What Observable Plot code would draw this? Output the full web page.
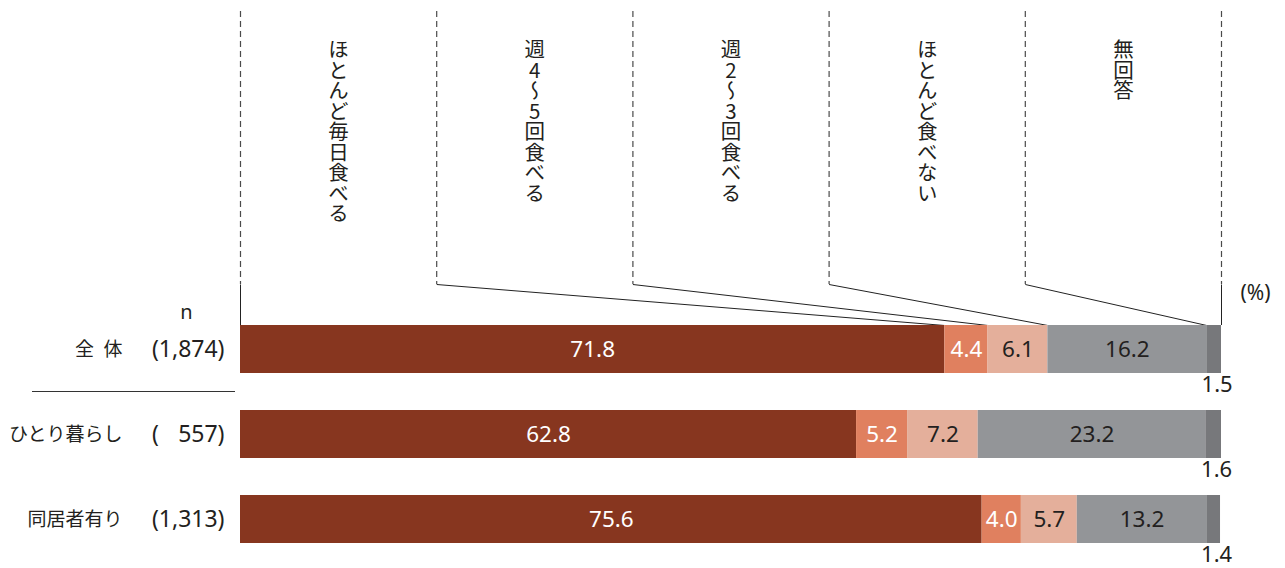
<!DOCTYPE html>
<html><head><meta charset="utf-8">
<script src="https://cdn.jsdelivr.net/npm/d3@7"></script>
<script src="https://cdn.jsdelivr.net/npm/@observablehq/plot@0.6"></script>
<style>
body{margin:0;background:#fff;}
#chart svg{display:block;}
</style></head><body><div id="chart"></div>
<script>
// ---- data ----
const groups = ["全体", "ひとり暮らし", "同居者有り"];
const groupNames = ["全\u2002体", "ひとり暮らし", "同居者有り"];
const groupN = ["(1,874)", "(\u2007\u2008557)", "(1,313)"];
const categories = ["ほとんど毎日食べる", "週4〜5回食べる", "週2〜3回食べる", "ほとんど食べない", "無回答"];
const valuesAll = [71.8, 4.4, 6.1, 16.2, 1.5];
const valuesAlone = [62.8, 5.2, 7.2, 23.2, 1.6];
const valuesWith = [75.6, 4.0, 5.7, 13.2, 1.4];

// ---- styles ----
const colors = ["#87361f", "#e0805f", "#e4af9b", "#939598", "#77787b"];
const whiteText = [true, true, false, false, false];
const W = 1285, ML = 240, MR = 64;
const latin = "'Noto Sans', 'Noto Sans CJK JP', sans-serif";
const cjk = "'Noto Sans CJK JP', 'Noto Sans', sans-serif";

const seriesValues = [valuesAll, valuesAlone, valuesWith];
const rows = [];
groups.forEach((g, gi) => {
  let c = 0;
  categories.forEach((cat, ci) => {
    const v = seriesValues[gi][ci];
    rows.push({group: g, category: cat, value: v, x1: c, x2: c + v, mid: c + v / 2, ci});
    c += v;
  });
});
const nCat = categories.length;
const bounds = d3.range(nCat + 1).map(i => i * 100 / nCat);
const cumFirst = [0];
valuesAll.forEach((v, i) => cumFirst.push(i === nCat - 1 ? 100 : +(cumFirst[i] + v).toFixed(1)));

// ---- header ----
const headerH = 325;
const header = Plot.plot({
  width: W, height: headerH, marginLeft: ML, marginRight: MR, marginTop: 0, marginBottom: 0,
  x: {domain: [0, 100], axis: null},
  y: {type: "identity", axis: null},
  style: {fontFamily: latin, background: "white", color: "#231f20"},
  marks: [
    Plot.ruleX(bounds, {x: d => d, y1: 11, y2: 284, stroke: "#4a4a4a", strokeWidth: 1.2, strokeDasharray: "6,4"}),
    Plot.link(bounds, {x1: d => d, y1: 284, x2: (d, i) => cumFirst[i], y2: headerH, stroke: "#222", strokeWidth: 1}),
    Plot.text(categories, {x: (d, i) => (i + 0.5) * 100 / nCat, y: 24, text: d => d, textAnchor: "start", lineAnchor: "top", fontSize: 20.5, fontFamily: cjk, fill: "#231f20"}),
    Plot.text(["n"], {frameAnchor: "bottom-left", dx: -54, dy: -13, text: d => d, textAnchor: "middle", lineAnchor: "middle", fontSize: 20, fill: "#231f20"}),
    Plot.text(["(%)"], {frameAnchor: "bottom-right", dx: 34, dy: -32, text: d => d, textAnchor: "middle", lineAnchor: "middle", fontSize: 21, fill: "#231f20"})
  ]
});
d3.select(header).selectAll("text")
  .filter(function() { return categories.includes(this.textContent); })
  .style("writing-mode", "vertical-rl")
  .style("text-orientation", "upright")
  .attr("dy", null);

// ---- bars ----
const bars = Plot.plot({
  width: W, height: 568 - headerH, marginLeft: ML, marginRight: MR, marginTop: 0, marginBottom: 24,
  x: {domain: [0, 100], axis: null},
  y: {domain: groups, axis: null, paddingInner: 0.44, paddingOuter: 0, align: 0},
  color: {domain: categories, range: colors},
  style: {fontFamily: latin, background: "white"},
  marks: [
    Plot.barX(rows, {x1: "x1", x2: "x2", y: "group", fill: "category"}),
    Plot.text(rows.filter(d => d.value >= 3 && whiteText[d.ci]), {x: "mid", y: "group", text: d => d.value.toFixed(1), fill: "#ffffff", fontSize: 22.5}),
    Plot.text(rows.filter(d => d.value >= 3 && !whiteText[d.ci]), {x: "mid", y: "group", text: d => d.value.toFixed(1), fill: "#231f20", fontSize: 22.5}),
    Plot.text(rows.filter(d => d.value < 3), {x: "mid", y: "group", text: d => d.value.toFixed(1), fill: "#231f20", fontSize: 22, dx: 3, dy: 35}),
    Plot.text(groups, {y: d => d, text: (d, i) => groupNames[i], frameAnchor: "left", dx: -118, textAnchor: "end", fontSize: 19, fontFamily: cjk, fill: "#231f20"}),
    Plot.text(groups, {y: d => d, text: (d, i) => groupN[i], frameAnchor: "left", dx: -16, textAnchor: "end", fontSize: 23, fill: "#231f20"})
  ]
});
// separator line under the total row
{
  const ys = bars.scale("y");
  const bw = ys.bandwidth;
  const yy = (ys.apply(groups[0]) + bw + ys.apply(groups[1])) / 2;
  d3.select(bars).append("line")
    .attr("x1", 32).attr("x2", 235).attr("y1", yy).attr("y2", yy)
    .attr("stroke", "#333").attr("stroke-width", 1);
}
document.getElementById("chart").append(header, bars);
</script></body></html>
